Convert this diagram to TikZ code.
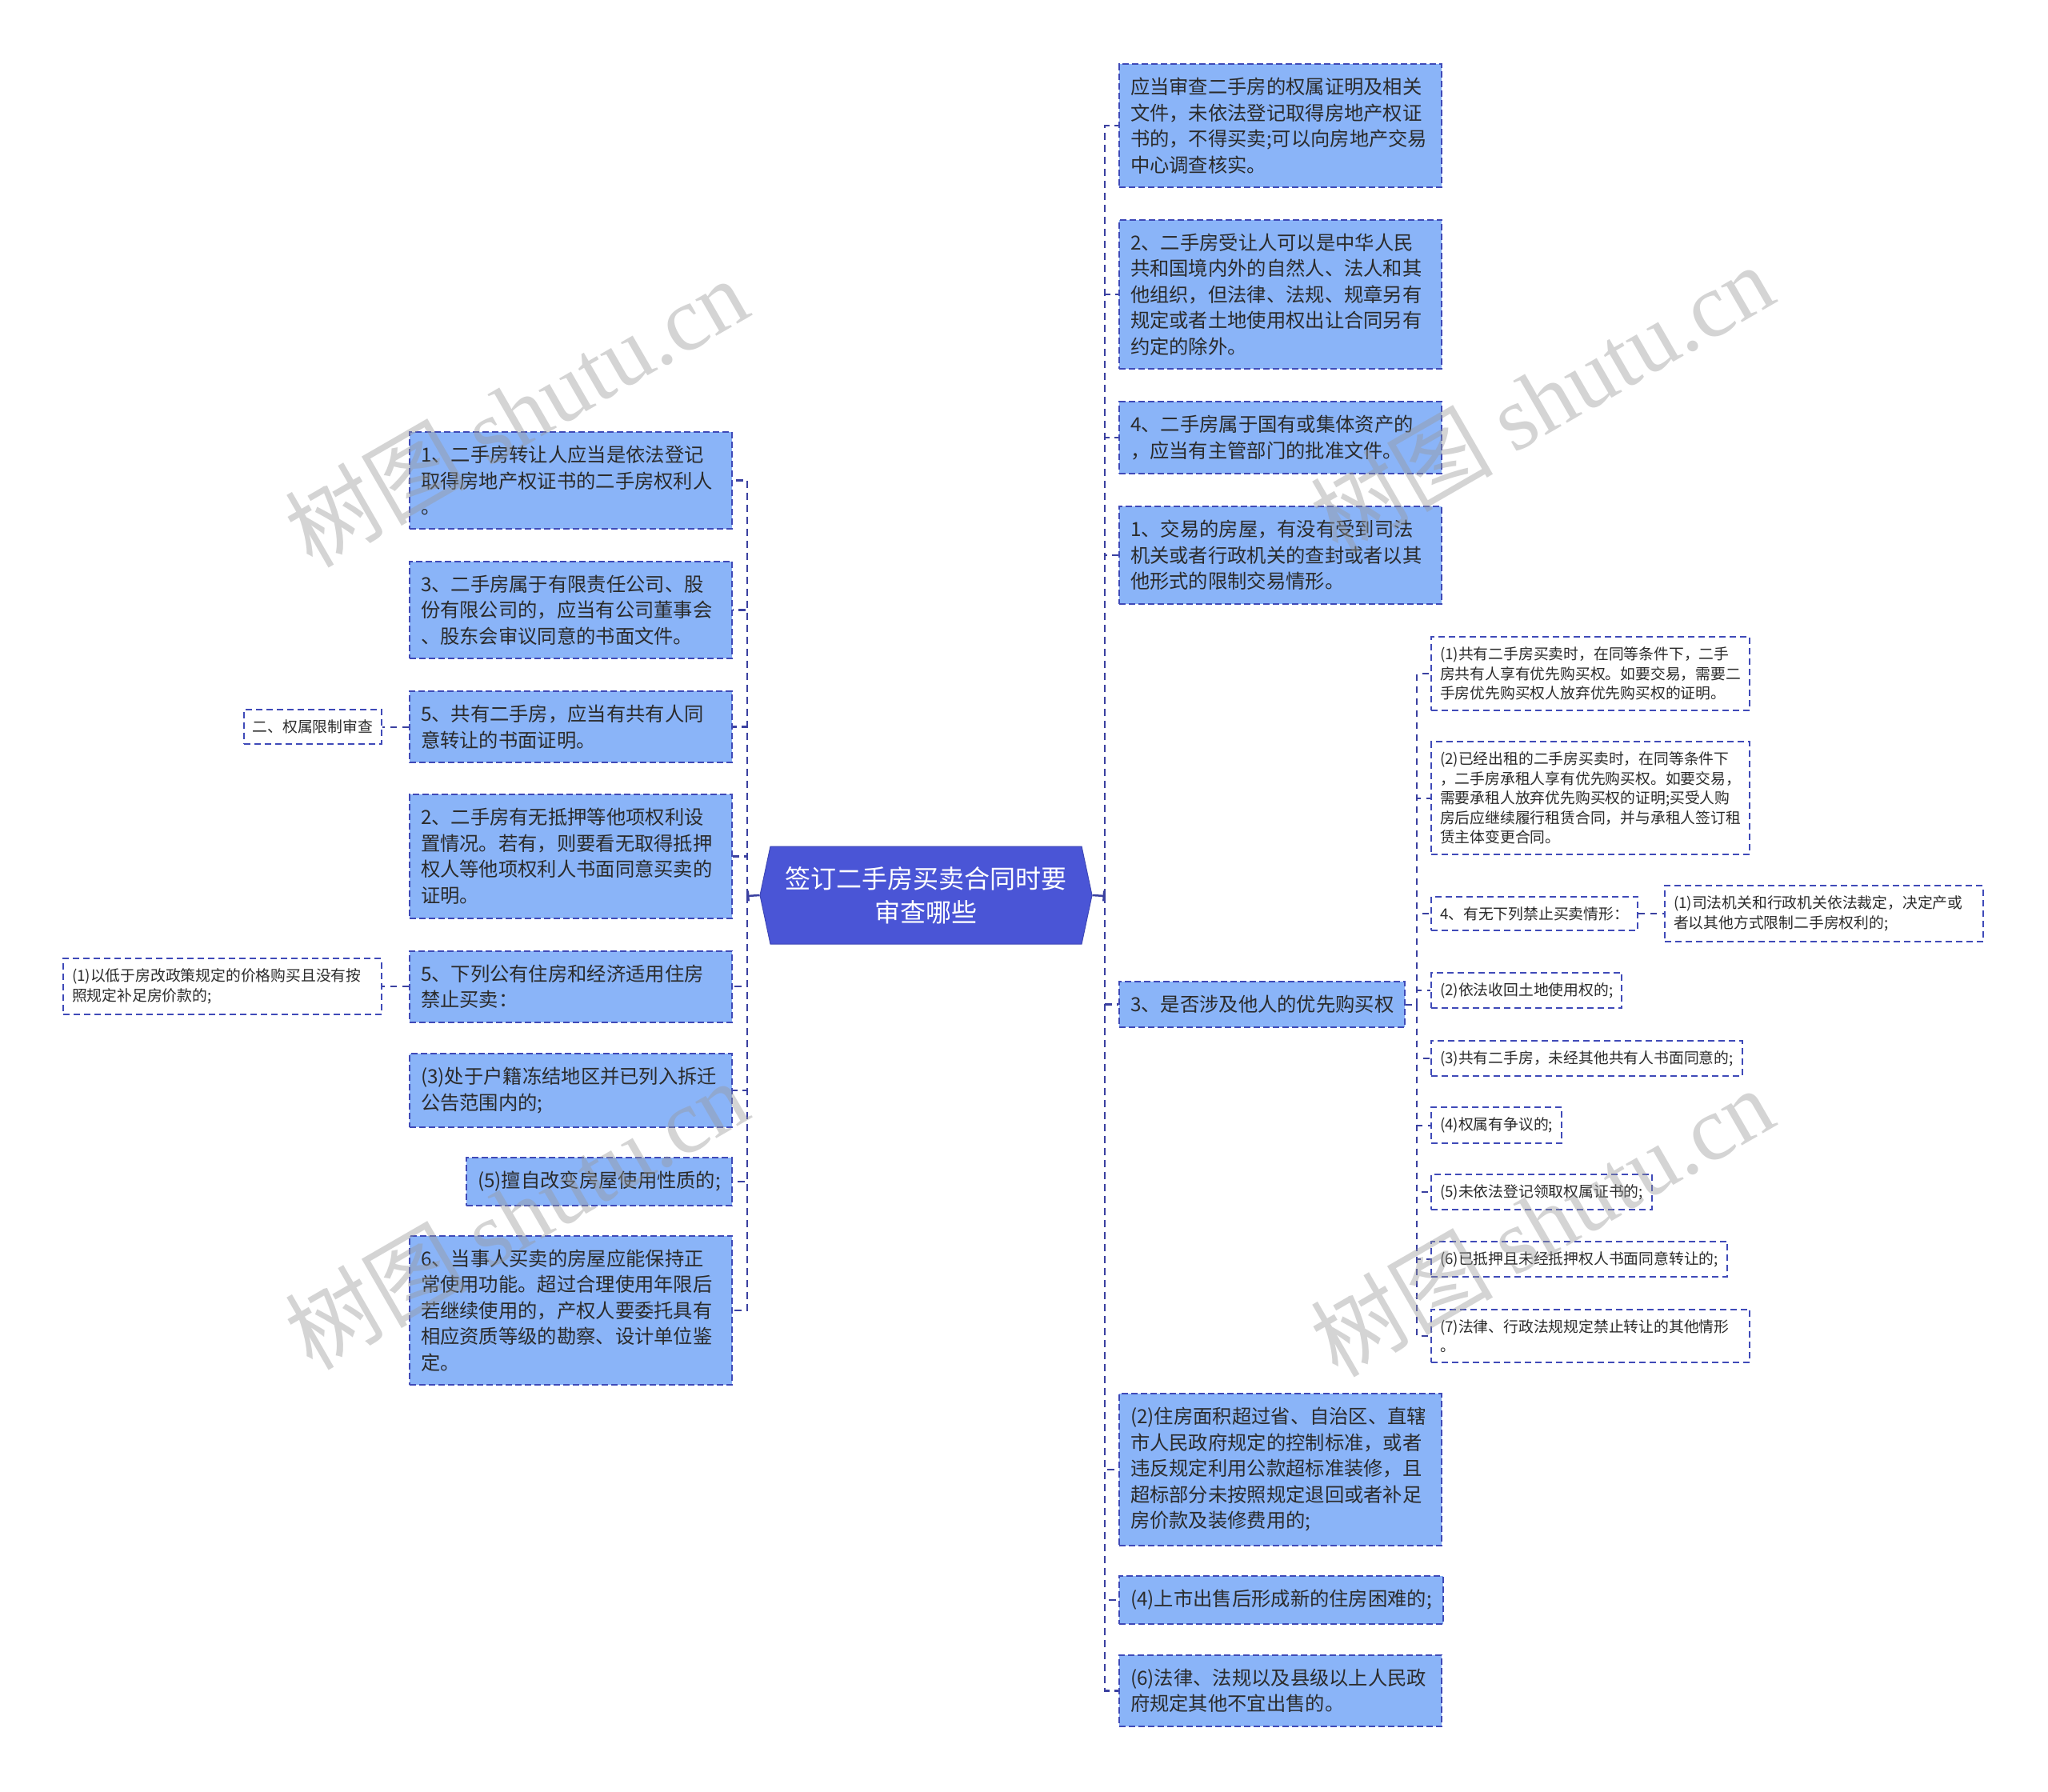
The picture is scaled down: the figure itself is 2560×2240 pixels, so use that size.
\documentclass[tikz,border=0pt]{standalone}
\usepackage{fontspec}
\setmainfont{Noto Sans CJK SC}
\newfontfamily\wmlatin{Liberation Serif}
\usetikzlibrary{arrows.meta,shapes.symbols}
\definecolor{boxfill}{HTML}{8AB4F8}
\definecolor{boxline}{HTML}{3F4AB8}
\definecolor{linkcol}{HTML}{3A40A0}
\definecolor{rootfill}{HTML}{4A55D6}
\definecolor{textcol}{HTML}{2B2B2B}
\tikzset{
 bigbox/.style={draw=boxline,fill=boxfill,line width=2pt,dash pattern=on 8pt off 4pt,text=textcol,
  font=\fontsize{24.3}{32.5}\selectfont,inner xsep=14pt,inner ysep=17pt,align=left},
 bigwide/.style={bigbox,text width=375pt},
 smallbox/.style={draw=boxline,fill=white,line width=2pt,dash pattern=on 8pt off 5pt,text=textcol,
  font=\fontsize{18.8}{24.5}\selectfont,inner xsep=11pt,inner ysep=12.6pt,align=left},
 smallwide/.style={smallbox,text width=376pt},
 link/.style={draw=linkcol,line width=2.5pt,dash pattern=on 9pt off 6pt},
 sublink/.style={draw=linkcol,line width=2pt,dash pattern=on 8pt off 7pt},
 stem/.style={draw=linkcol,line width=2.5pt,-{Bar[width=13pt,line width=2.5pt]}},
 stamp/.style={text=black!40,opacity=.42,rotate=30,font=\fontsize{114}{114}\selectfont}
}
\begin{document}
\begin{tikzpicture}[x=1pt,y=-1pt]
\useasboundingbox (0,0) rectangle (2560,2240);
\fill[white] (0,0) rectangle (2560,2240);
\node[signal,signal to=west and east,signal pointer angle=156,fill=rootfill,draw=rootfill!85!black,line width=1pt,
 minimum width=415pt,minimum height=122pt,text=white,align=center,font=\fontsize{32}{42}\selectfont]
 (root) at (1157.5,1119) {签订二手房买卖合同时要\\审查哪些};
\coordinate (lt) at (934,1120);
\coordinate (rt) at (1381,1120);
\coordinate (st) at (1771,1255.5);
% right side
\node[bigwide,anchor=west] (r1) at (1398,157) {应当审查二手房的权属证明及相关\\文件，未依法登记取得房地产权证\\书的，不得买卖;可以向房地产交易\\中心调查核实。};
\node[bigwide,anchor=west] (r2) at (1398,368) {2、二手房受让人可以是中华人民\\共和国境内外的自然人、法人和其\\他组织，但法律、法规、规章另有\\规定或者土地使用权出让合同另有\\约定的除外。};
\node[bigwide,anchor=west] (r3) at (1398,547) {4、二手房属于国有或集体资产的\\，应当有主管部门的批准文件。};
\node[bigwide,anchor=west] (r4) at (1398,694) {1、交易的房屋，有没有受到司法\\机关或者行政机关的查封或者以其\\他形式的限制交易情形。};
\node[bigbox,anchor=west] (r5) at (1398,1255.5) {3、是否涉及他人的优先购买权};
\node[bigwide,anchor=west] (r6) at (1398,1837) {(2)住房面积超过省、自治区、直辖\\市人民政府规定的控制标准，或者\\违反规定利用公款超标准装修，且\\超标部分未按照规定退回或者补足\\房价款及装修费用的;};
\node[bigbox,anchor=west] (r7) at (1398,2000) {(4)上市出售后形成新的住房困难的;};
\node[bigwide,anchor=west] (r8) at (1398,2113.5) {(6)法律、法规以及县级以上人民政\\府规定其他不宜出售的。};
% left side
\node[bigwide,anchor=east] (l1) at (916,600.5) {1、二手房转让人应当是依法登记\\取得房地产权证书的二手房权利人\\。};
\node[bigwide,anchor=east] (l2) at (916,762.5) {3、二手房属于有限责任公司、股\\份有限公司的，应当有公司董事会\\、股东会审议同意的书面文件。};
\node[bigwide,anchor=east] (l3) at (916,908.5) {5、共有二手房，应当有共有人同\\意转让的书面证明。};
\node[bigwide,anchor=east] (l4) at (916,1070.5) {2、二手房有无抵押等他项权利设\\置情况。若有，则要看无取得抵押\\权人等他项权利人书面同意买卖的\\证明。};
\node[bigwide,anchor=east] (l5) at (916,1233) {5、下列公有住房和经济适用住房\\禁止买卖：};
\node[bigwide,anchor=east] (l6) at (916,1363) {(3)处于户籍冻结地区并已列入拆迁\\公告范围内的;};
\node[bigbox,anchor=east] (l7) at (916,1477) {(5)擅自改变房屋使用性质的;};
\node[bigwide,anchor=east] (l8) at (916,1638) {6、当事人买卖的房屋应能保持正\\常使用功能。超过合理使用年限后\\若继续使用的，产权人要委托具有\\相应资质等级的勘察、设计单位鉴\\定。};
\node[smallbox,anchor=east] (ll1) at (478,908.5) {二、权属限制审查};
\node[smallwide,anchor=east] (ll2) at (478,1233) {(1)以低于房改政策规定的价格购买且没有按\\照规定补足房价款的;};
% priority purchase branch
\node[smallwide,anchor=west] (s1) at (1788,842) {(1)共有二手房买卖时，在同等条件下，二手\\房共有人享有优先购买权。如要交易，需要二\\手房优先购买权人放弃优先购买权的证明。};
\node[smallwide,anchor=west] (s2) at (1788,997.5) {(2)已经出租的二手房买卖时，在同等条件下\\，二手房承租人享有优先购买权。如要交易，\\需要承租人放弃优先购买权的证明;买受人购\\房后应继续履行租赁合同，并与承租人签订租\\赁主体变更合同。};
\node[smallbox,anchor=west] (s3) at (1788,1142) {4、有无下列禁止买卖情形：};
\node[smallwide,anchor=west] (s3a) at (2080,1142) {(1)司法机关和行政机关依法裁定，决定产或\\者以其他方式限制二手房权利的;};
\node[smallbox,anchor=west] (s4) at (1788,1238) {(2)依法收回土地使用权的;};
\node[smallbox,anchor=west] (s5) at (1788,1323) {(3)共有二手房，未经其他共有人书面同意的;};
\node[smallbox,anchor=west] (s6) at (1788,1406.5) {(4)权属有争议的;};
\node[smallbox,anchor=west] (s7) at (1788,1490) {(5)未依法登记领取权属证书的;};
\node[smallbox,anchor=west] (s8) at (1788,1574) {(6)已抵押且未经抵押权人书面同意转让的;};
\node[smallwide,anchor=west] (s9) at (1788,1670) {(7)法律、行政法规规定禁止转让的其他情形\\。};
% connectors
\draw[stem] (root.west) -- (lt);
\draw[stem] (root.east) -- (rt);
\foreach \n in {l1,l2,l3,l4,l5,l6,l7,l8}
 \draw[link] (lt) |- (\n.east);
\foreach \n in {r1,r2,r3,r4,r5,r6,r7,r8}
 \draw[link] (rt) |- (\n.west);
\draw[sublink] (r5.east) -- (st);
\foreach \n in {s1,s2,s3,s4,s5,s6,s7,s8,s9}
 \draw[sublink] (st) |- (\n.west);
\draw[sublink] (l3.west) -- (ll1.east);
\draw[sublink] (l5.west) -- (ll2.east);
\draw[sublink] (s3.east) -- (s3a.west);
% watermark
\foreach \i/\p in {1/{(645,515)},2/{(1927,498)},3/{(645,1518)},4/{(1927,1527)}}
 \node[stamp] (wm\i) at \p {树图 {\wmlatin shutu.cn}};
\end{tikzpicture}
\end{document}
